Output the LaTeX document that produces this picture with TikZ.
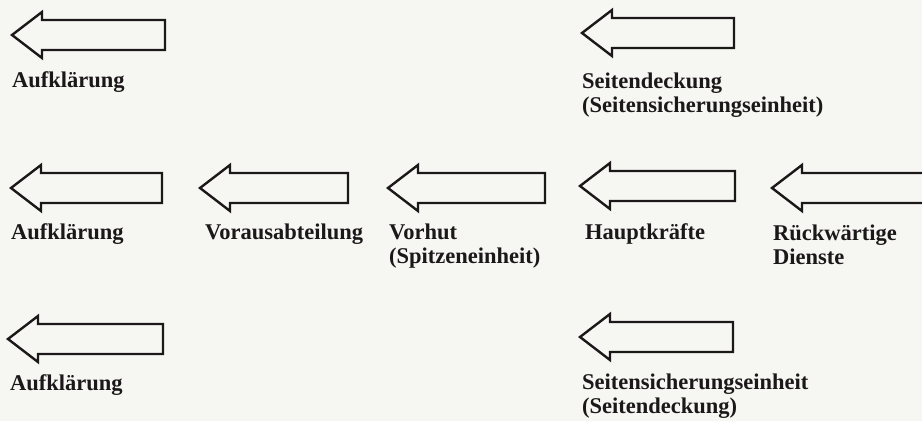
\documentclass[tikz,border=0pt]{standalone}
\usepackage{fontspec}
\setmainfont{Liberation Serif}
\usetikzlibrary{positioning}
\definecolor{Paper}{RGB}{246,246,243}
\definecolor{Ink}{RGB}{28,24,26}

\tikzset{
  lbl/.style={anchor=base west, inner sep=0pt, align=left, text=Ink,
    font=\bfseries\fontsize{22.5}{24}\selectfont},
  hollow/.style={draw=Ink, line width=2.4pt, line join=miter}
}

\begin{document}
\begin{tikzpicture}[x=1pt, y=-1pt]
      \clip (0,0) rectangle (922,421);
      \fill[Paper] (0,0) rectangle (922,421);

      % hollow arrows pointing left: tip x / tip y / length
      \foreach \tx/\ty/\len in {12/35/153, 582/33/152,
          11/188/151, 200/188/148, 388/188/157, 580/186/155, 772/188/160,
          8/339/155, 580/337/153}
      \draw[hollow] (\tx,\ty) -- ++(30,-23) -- ++(0,8) -- ++(\len-30,0)
          -- ++(0,30) -- ++(30-\len,0) -- ++(0,8) -- cycle;

      % base of a two-line label = baseline of its last line
      \node[lbl] at (12,87) (auf1) {Aufklärung};
      \node[lbl] at (582,112) (seite1) {Seitendeckung\\(Seitensicherungseinheit)};

      \node[lbl] at (11,239) (auf2) {Aufklärung};
      \node[lbl] at (205,239) (voraus) {Vorausabteilung};
      \node[lbl] at (389,263) (vorhut) {Vorhut\\(Spitzeneinheit)};
      \node[lbl] at (585,239) (haupt) {Hauptkräfte};
      \node[lbl] at (773,264) (rueck) {Rückwärtige\\Dienste};

      \node[lbl] at (10,390) (auf3) {Aufklärung};
      \node[lbl] at (582,413) (seite2) {Seitensicherungseinheit\\(Seitendeckung)};
\end{tikzpicture}
\end{document}
